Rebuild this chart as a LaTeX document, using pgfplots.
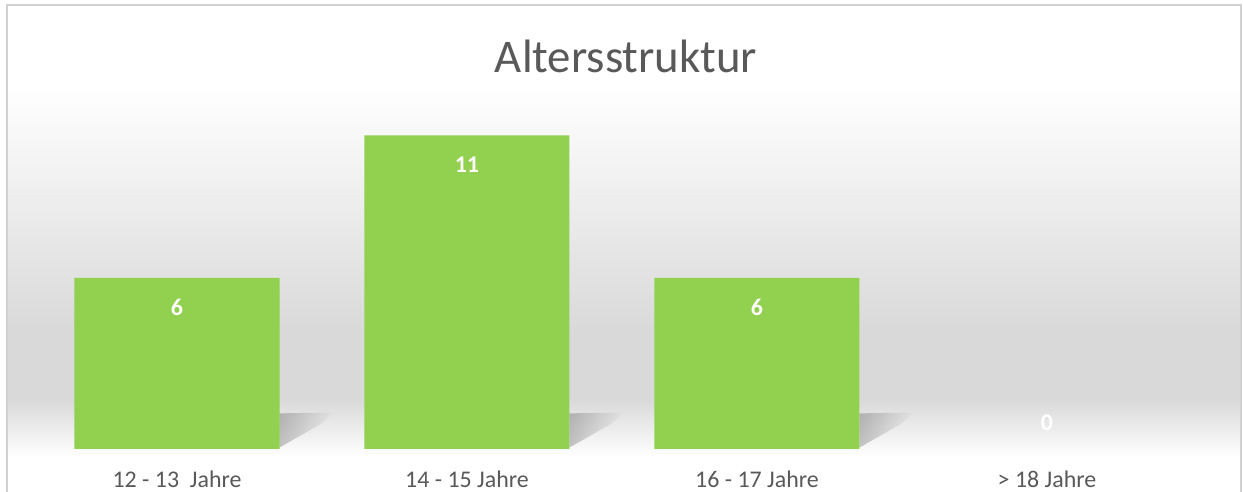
\documentclass[border=0pt]{standalone}
\usepackage{fontspec}
\setmainfont{Carlito}
\usepackage{pgfplots}
\pgfplotsset{compat=1.18}
\usetikzlibrary{fadings}
\definecolor{barg}{HTML}{92D050}
\definecolor{bgg}{HTML}{D9D9D9}
\definecolor{txt}{HTML}{595959}
\begin{document}
\begin{tikzpicture}[x=1bp,y=1bp]
\useasboundingbox (0,0) rectangle (1243,492);
\fill[white] (0,0) rectangle (1243,492);
\shade[top color=white, bottom color=bgg] (7,160) rectangle (1241,405);
\fill[bgg] (7,92) rectangle (1241,160.5);
\shade[top color=bgg, bottom color=white] (7,35) rectangle (1241,92.5);
\draw[black!18, line width=1.2bp] (7,0) -- (7,487) -- (1241,487) -- (1241,0);
\node[font=\fontsize{47}{56}\selectfont, text=txt] at (626,436) {Altersstruktur};
\begin{axis}[
  at={(32bp,43bp)}, anchor=south west,
  scale only axis, width=1160bp, height=342bp,
  xmin=-0.5, xmax=3.5, ymin=0, ymax=12,
  axis line style={draw=none},
  ytick=\empty,
  xtick={0,1,2,3},
  xticklabels={12 - 13\ \ Jahre, 14 - 15 Jahre, 16 - 17 Jahre, > 18 Jahre},
  major tick length=0pt,
  xticklabel style={font=\fontsize{24}{28}\selectfont, text=txt, anchor=base, yshift=-39bp},
  /pgf/number format/assume math mode=true,
  clip=false,
]
\fill[black, opacity=0.22, path fading=east] (axis cs:0.353,0.05) -- (axis cs:0.353,1.25) -- (axis cs:0.54,1.28) -- (axis cs:0.50,0.9) -- cycle;
\fill[black, opacity=0.22, path fading=east] (axis cs:1.353,0.05) -- (axis cs:1.353,1.25) -- (axis cs:1.54,1.28) -- (axis cs:1.50,0.9) -- cycle;
\fill[black, opacity=0.22, path fading=east] (axis cs:2.353,0.05) -- (axis cs:2.353,1.25) -- (axis cs:2.54,1.28) -- (axis cs:2.50,0.9) -- cycle;
\addplot[ybar, bar width=205bp, bar shift=0pt, fill=barg, draw=none] coordinates {(0,6) (1,11) (2,6)};
\addplot[draw=none, mark=none, nodes near coords, nodes near coords style={anchor=center, yshift=-29bp, font=\fontsize{24}{28}\selectfont\bfseries, text=white}] coordinates {(0,6) (1,11) (2,6)};
\addplot[draw=none, mark=none, nodes near coords, nodes near coords style={anchor=center, yshift=26bp, font=\fontsize{24}{28}\selectfont\bfseries, text=white}] coordinates {(3,0)};
\end{axis}
\end{tikzpicture}
\end{document}
